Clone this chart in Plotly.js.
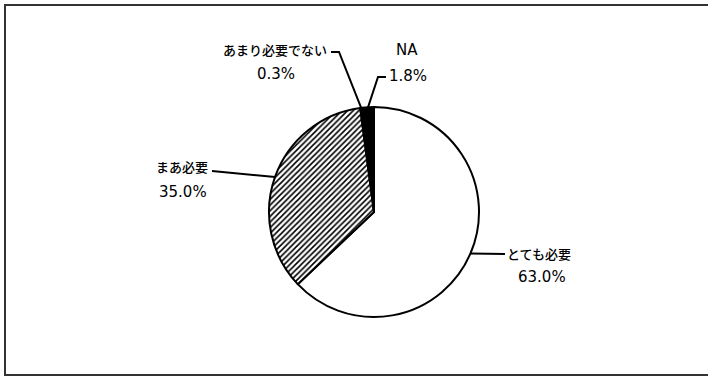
<!DOCTYPE html>
<html>
<head>
<meta charset="utf-8">
<script src="https://cdn.plot.ly/plotly-3.0.1.min.js"></script>
<style>
  html, body { margin: 0; padding: 0; background: #fff; overflow: hidden; }
  #chart { width: 708px; height: 377px; }
</style>
</head>
<body>
<div id="chart"></div>
<script>
// Survey answers, clockwise from 12 o'clock
const categories = ['とても必要', 'まあ必要', 'あまり必要でない', 'NA'];
const shares = [63.0, 35.0, 0.3, 1.8];

// Slice fills: plain, hatched, plain, solid
const sliceColors = ['#ffffff', '#ffffff', '#ffffff', '#000000'];
const slicePatterns = ['', '/', '', ''];

const W = 708, H = 377;
const cx = 374, cy = 212, R = 105;

// Label blocks (name / percent) and the elbow of each leader line, in pixels
const labelLayout = [
  { nameX: 539, nameY: 253, pctX: 542, pctY: 277, elbow: [505, 254], tail: null },
  { nameX: 182, nameY: 166, pctX: 183, pctY: 192, elbow: [212, 171], tail: null },
  { nameX: 275, nameY: 49,  pctX: 276, pctY: 74,  elbow: [339, 52],  tail: [331, 52] },
  { nameX: 407, nameY: 50,  pctX: 408, pctY: 76,  elbow: [378, 77],  tail: [386, 77] }
];

const px = x => x / W;
const py = y => 1 - y / H;

// mid-angle of each slice → point on the rim
const total = shares.reduce((a, b) => a + b, 0);
let acc = 0;
const rimPoints = shares.map(v => {
  const mid = (acc + v / 2) / total * 2 * Math.PI;
  acc += v;
  return [cx + R * Math.sin(mid), cy - R * Math.cos(mid)];
});

const latinFont = 'DejaVu Sans, Noto Sans CJK JP';
const shapes = [];
const annotations = [];
labelLayout.forEach((L, i) => {
  const rim = rimPoints[i];
  let path = `M ${px(rim[0])} ${py(rim[1])} L ${px(L.elbow[0])} ${py(L.elbow[1])}`;
  if (L.tail) path += ` L ${px(L.tail[0])} ${py(L.tail[1])}`;
  shapes.push({ type: 'path', xref: 'paper', yref: 'paper', path: path,
                line: { color: '#000', width: 2 } });
  const isLatin = /^[A-Za-z]+$/.test(categories[i]);
  annotations.push({ xref: 'paper', yref: 'paper', x: px(L.nameX), y: py(L.nameY),
    xanchor: 'center', yanchor: 'middle', showarrow: false, text: categories[i],
    font: isLatin ? { family: latinFont, size: 15, color: '#000' }
                  : { family: 'Noto Sans CJK JP', size: 13, weight: 500, color: '#000' } });
  annotations.push({ xref: 'paper', yref: 'paper', x: px(L.pctX), y: py(L.pctY),
    xanchor: 'center', yanchor: 'middle', showarrow: false, text: shares[i].toFixed(1) + '%',
    font: { family: latinFont, size: 15, color: '#000' } });
});

// outer frame: top, left and bottom edges, open on the right
shapes.push({ type: 'path', xref: 'paper', yref: 'paper',
  path: `M ${px(708)} ${py(5)} L ${px(5)} ${py(5)} L ${px(5)} ${py(375)} L ${px(708)} ${py(375)}`,
  line: { color: '#333', width: 2 }, layer: 'below' });

const trace = {
  type: 'pie',
  labels: categories,
  values: shares,
  sort: false,
  direction: 'clockwise',
  rotation: 0,
  textinfo: 'none',
  hoverinfo: 'label+percent',
  marker: {
    colors: sliceColors,
    line: { color: '#000', width: 2 },
    pattern: { shape: slicePatterns, fgcolor: '#000', bgcolor: '#fff', size: 4, solidity: 0.4 }
  },
  domain: { x: [px(cx - R), px(cx + R)], y: [py(cy + R), py(cy - R)] }
};

Plotly.newPlot('chart', [trace], {
  width: W, height: H,
  margin: { l: 0, r: 0, t: 0, b: 0 },
  showlegend: false,
  paper_bgcolor: '#fff',
  shapes: shapes,
  annotations: annotations
}, { displayModeBar: false, staticPlot: true });
</script>
</body>
</html>
